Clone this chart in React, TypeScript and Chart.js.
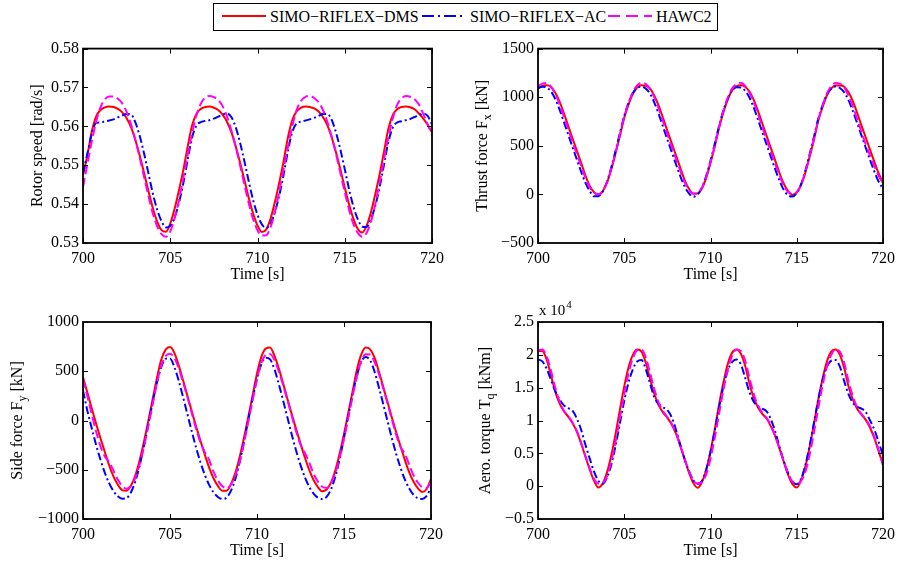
import React, { useEffect, useRef } from 'react';
import { Chart, registerables } from 'chart.js';

Chart.register(...registerables);

// ---------- data ----------
const time = [
  700, 700.25, 700.5, 700.75, 701, 701.25, 701.5, 701.75, 702, 702.25, 702.5, 702.75,
  703, 703.25, 703.5, 703.75, 704, 704.25, 704.5, 704.75, 705, 705.25, 705.5, 705.75,
  706, 706.25, 706.5, 706.75, 707, 707.25, 707.5, 707.75, 708, 708.25, 708.5, 708.75,
  709, 709.25, 709.5, 709.75, 710, 710.25, 710.5, 710.75, 711, 711.25, 711.5, 711.75,
  712, 712.25, 712.5, 712.75, 713, 713.25, 713.5, 713.75, 714, 714.25, 714.5, 714.75,
  715, 715.25, 715.5, 715.75, 716, 716.25, 716.5, 716.75, 717, 717.25, 717.5, 717.75,
  718, 718.25, 718.5, 718.75, 719, 719.25, 719.5, 719.75, 720,
];

const seriesNames = ['SIMO\u2212RIFLEX\u2212DMS', 'SIMO\u2212RIFLEX\u2212AC', 'HAWC2'];

// Rotor speed [rad/s]
const speedDms = [
  0.5475, 0.5525, 0.5586, 0.5625, 0.5642, 0.5649, 0.5651, 0.5650, 0.5645, 0.5636, 0.5621, 0.5598, 0.5565, 0.5525, 0.5480, 0.5434, 0.5390, 0.5355, 0.5333,
  0.5329, 0.5350, 0.5388, 0.5436, 0.5488, 0.5548, 0.5602, 0.5632, 0.5645, 0.5650, 0.5651, 0.5648, 0.5642, 0.5630, 0.5612, 0.5585, 0.5549, 0.5507, 0.5462, 0.5416, 0.5376, 0.5345, 0.5328,
  0.5335, 0.5363, 0.5406, 0.5456, 0.5511, 0.5573, 0.5617, 0.5639, 0.5648, 0.5651, 0.5650, 0.5646, 0.5638, 0.5624, 0.5603, 0.5572, 0.5533, 0.5489, 0.5443, 0.5399, 0.5362, 0.5336,
  0.5327, 0.5344, 0.5379, 0.5426, 0.5477, 0.5535, 0.5594, 0.5629, 0.5644, 0.5650, 0.5651, 0.5649, 0.5644, 0.5633, 0.5620, 0.5604, 0.5585,
];
const speedAc = [
  0.5478, 0.5530, 0.5580, 0.5609, 0.5610, 0.5613, 0.5615, 0.5618, 0.5623, 0.5628, 0.5632, 0.5631, 0.5610, 0.5575, 0.5530, 0.5479, 0.5428, 0.5386, 0.5356, 0.5340,
  0.5344, 0.5366, 0.5404, 0.5454, 0.5515, 0.5571, 0.5602, 0.5611, 0.5614, 0.5616, 0.5620, 0.5625, 0.5630, 0.5633, 0.5624, 0.5598, 0.5558, 0.5510, 0.5458, 0.5410, 0.5373, 0.5348,
  0.5339, 0.5350, 0.5380, 0.5423, 0.5477, 0.5538, 0.5587, 0.5608, 0.5612, 0.5615, 0.5618, 0.5622, 0.5627, 0.5632, 0.5632, 0.5617, 0.5584, 0.5540, 0.5490, 0.5438, 0.5393, 0.5361, 0.5342,
  0.5341, 0.5361, 0.5396, 0.5444, 0.5502, 0.5560, 0.5597, 0.5610, 0.5613, 0.5616, 0.5619, 0.5624, 0.5629, 0.5633, 0.5627, 0.5605,
];
const speedHawc = [
  0.5444, 0.5503, 0.5561, 0.5611, 0.5649, 0.5669, 0.5677, 0.5677, 0.5671, 0.5659, 0.5637, 0.5605, 0.5565, 0.5519, 0.5470, 0.5421, 0.5376, 0.5343, 0.5323,
  0.5316, 0.5330, 0.5363, 0.5410, 0.5467, 0.5527, 0.5582, 0.5628, 0.5658, 0.5674, 0.5678, 0.5675, 0.5668, 0.5652, 0.5626, 0.5590, 0.5548, 0.5500, 0.5450, 0.5402, 0.5361, 0.5333, 0.5319,
  0.5320, 0.5341, 0.5381, 0.5433, 0.5491, 0.5549, 0.5601, 0.5643, 0.5666, 0.5676, 0.5678, 0.5673, 0.5662, 0.5642, 0.5612, 0.5573, 0.5529, 0.5480, 0.5431, 0.5385, 0.5348, 0.5326,
  0.5316, 0.5326, 0.5355, 0.5400, 0.5455, 0.5515, 0.5572, 0.5620, 0.5655, 0.5672, 0.5678, 0.5676, 0.5670, 0.5656, 0.5632, 0.5605, 0.5578,
];

// Thrust force Fx [kN]
const thrustDms = [
  1095, 1115, 1122, 1105, 1045, 955, 835, 705, 577, 451, 325, 194, 88, 22,
  -2, 32, 120, 258, 425, 604, 790, 925, 1035, 1100, 1122, 1118, 1088, 1012, 910, 785, 653, 527, 401, 274, 148, 58, 8,
  8, 60, 170, 325, 495, 685, 845, 975, 1070, 1112, 1123, 1108, 1060, 975, 860, 730, 602, 476, 350, 220, 110, 35, -3,
  20, 95, 225, 390, 565, 760, 900, 1020, 1090, 1120, 1120, 1108, 1050, 960, 840, 710, 585, 458, 335, 215, 118,
];
const thrustAc = [
  1090, 1108, 1100, 1060, 982, 873, 746, 616, 488, 360, 235, 118, 35, -20, -18,
  30, 130, 278, 451, 632, 808, 942, 1042, 1095, 1108, 1088, 1035, 942, 825, 694, 565, 437, 310, 187, 80, 10, -25,
  0, 70, 190, 347, 523, 706, 864, 986, 1066, 1102, 1101, 1068, 999, 896, 772, 642, 513, 386, 260, 141, 45, -10, -22,
  15, 105, 245, 415, 595, 780, 920, 1030, 1090, 1110, 1095, 1050, 970, 860, 735, 607, 480, 355, 235, 130, 58,
];
const thrustHawc = [
  1112, 1140, 1145, 1110, 1035, 928, 800, 670, 540, 415, 292, 170, 70, 17, 1,
  38, 125, 265, 433, 614, 800, 940, 1055, 1122, 1148, 1135, 1085, 995, 880, 750, 617, 490, 365, 243, 125, 45, 7,
  12, 68, 180, 330, 505, 695, 860, 995, 1090, 1135, 1148, 1118, 1050, 950, 827, 696, 566, 440, 316, 195, 88, 25, 0,
  25, 100, 232, 398, 575, 770, 915, 1040, 1112, 1145, 1140, 1100, 1015, 905, 775, 643, 515, 400, 290, 190, 105,
];

// Side force Fy [kN]
const sideDms = [
  440, 283, 124, -30, -178, -318, -454, -568, -652, -706,
  -713, -663, -561, -408, -218, -7, 213, 433, 619, 720,
  745, 687, 560, 408, 251, 93, -60, -206, -346, -478, -586, -664, -712,
  -713, -647, -534, -372, -177, 37, 257, 477, 646, 730,
  740, 658, 530, 377, 219, 62, -90, -234, -374, -502, -604, -676, -719,
  -701, -631, -507, -336, -136, 81, 301, 521, 673, 740,
  722, 640, 500, 346, 187, 31, -120, -262, -402, -526, -622, -690, -725,
  -695, -595,
];
const sideAc = [
  305, 100, -75, -245, -396, -528, -636, -716, -769, -794,
  -788, -730, -622, -462, -261, -40, 182, 384, 544, 627,
  630, 544, 404, 238, 65, -110, -276, -424, -552, -654, -729, -776, -796,
  -783, -715, -596, -426, -218, 5, 226, 422, 572, 636,
  620, 522, 372, 204, 30, -145, -308, -452, -576, -672, -742, -783, -798,
  -775, -700, -570, -390, -175, 50, 270, 460, 600, 645,
  610, 500, 340, 170, -5, -180, -340, -480, -600, -690, -755, -790, -797,
  -765, -680,
];
const sideHawc = [
  420, 245, 65, -110, -260, -365, -420, -510, -600, -665,
  -692, -665, -585, -450, -270, -60, 160, 380, 560, 655,
  678, 635, 530, 390, 238, 77, -84, -223, -322, -400, -520, -608, -666,
  -690, -650, -560, -420, -230, -15, 205, 420, 585, 665,
  675, 615, 500, 360, 206, 45, -115, -245, -330, -425, -540, -620, -672,
  -685, -635, -535, -380, -185, 30, 250, 455, 605, 672,
  670, 595, 475, 330, 175, 12, -145, -270, -338, -450, -558, -632, -678,
  -685, -620,
];

// Aero torque Tq [x 10^4 kNm]
const torqueDms = [
  2.06, 2.06, 1.93, 1.69, 1.44, 1.26, 1.14, 1.06, 0.96, 0.83, 0.65, 0.45, 0.25, 0.08, -0.02,
  0.04, 0.21, 0.47, 0.80, 1.17, 1.52, 1.81, 2.00, 2.08,
  2.05, 1.88, 1.63, 1.40, 1.23, 1.12, 1.04, 0.94, 0.80, 0.61, 0.41, 0.21, 0.05, -0.025,
  0.06, 0.25, 0.53, 0.87, 1.25, 1.58, 1.86, 2.03, 2.08,
  2.02, 1.84, 1.57, 1.35, 1.20, 1.10, 1.03, 0.91, 0.76, 0.57, 0.37, 0.17, 0.03,
  -0.02, 0.09, 0.30, 0.60, 0.95, 1.32, 1.64, 1.90, 2.05,
  2.08, 2.00, 1.80, 1.52, 1.32, 1.18, 1.09, 1.01, 0.89, 0.73, 0.53, 0.33,
];
const torqueAc = [
  1.93, 1.90, 1.79, 1.62, 1.45, 1.32, 1.23, 1.19, 1.15, 1.03, 0.86, 0.63, 0.42, 0.22, 0.08,
  0.035, 0.13, 0.33, 0.62, 0.96, 1.30, 1.58, 1.78, 1.90,
  1.92, 1.78, 1.56, 1.35, 1.25, 1.20, 1.16, 1.05, 0.86, 0.63, 0.41, 0.23, 0.09, 0.035,
  0.08, 0.25, 0.52, 0.85, 1.20, 1.52, 1.76, 1.89, 1.93,
  1.86, 1.66, 1.44, 1.29, 1.21, 1.18, 1.14, 1.02, 0.83, 0.60, 0.38, 0.20, 0.07,
  0.03, 0.11, 0.32, 0.62, 0.97, 1.32, 1.62, 1.82, 1.91,
  1.92, 1.82, 1.60, 1.40, 1.27, 1.21, 1.18, 1.13, 1.00, 0.86, 0.67, 0.47,
];
const torqueHawc = [
  2.07, 2.08, 1.98, 1.76, 1.50, 1.29, 1.15, 1.07, 0.97, 0.84, 0.66, 0.46, 0.27, 0.11, 0.04,
  0.05, 0.15, 0.38, 0.68, 1.04, 1.40, 1.72, 1.95, 2.07,
  2.08, 1.96, 1.72, 1.47, 1.27, 1.14, 1.05, 0.95, 0.81, 0.62, 0.42, 0.23, 0.09, 0.04,
  0.06, 0.18, 0.42, 0.74, 1.11, 1.47, 1.77, 1.98, 2.08,
  2.06, 1.92, 1.66, 1.41, 1.23, 1.12, 1.04, 0.93, 0.77, 0.58, 0.38, 0.19, 0.07,
  0.04, 0.08, 0.22, 0.48, 0.82, 1.19, 1.54, 1.82, 2.00,
  2.08, 2.05, 1.88, 1.60, 1.37, 1.20, 1.10, 1.02, 0.91, 0.75, 0.55, 0.32,
];

const timeTicks = [700, 705, 710, 715, 720];

// ---------- styling ----------
const FONT = "'Liberation Serif', 'Times New Roman', Times, serif";
const FS = 16;
const RED = '#ff0000';
const BLUE = '#0000ff';
const MAGENTA = '#ff00ff';
const MINUS = '\u2212';

Chart.defaults.font.family = FONT;
Chart.defaults.color = '#000';

const signed = (v: number) => {
  const r = Math.round(v * 1000) / 1000;
  return r < 0 ? MINUS + String(Math.abs(r)) : String(r);
};

type Part = { text: string; sub?: boolean };

const matlabAxes = {
  id: 'matlabAxes',
  afterDatasetsDraw(chart: any, _args: any, opts: any) {
    const { ctx, chartArea: a, scales } = chart;
    ctx.save();
    ctx.strokeStyle = '#000';
    ctx.lineWidth = 1;
    const tl = 5;
    ctx.beginPath();
    for (const t of scales.x.ticks) {
      const px = Math.round(scales.x.getPixelForValue(t.value)) + 0.5;
      ctx.moveTo(px, a.bottom);
      ctx.lineTo(px, a.bottom - tl);
      ctx.moveTo(px, a.top);
      ctx.lineTo(px, a.top + tl);
    }
    for (const t of scales.y.ticks) {
      const py = Math.round(scales.y.getPixelForValue(t.value)) + 0.5;
      ctx.moveTo(a.left, py);
      ctx.lineTo(a.left + tl, py);
      ctx.moveTo(a.right, py);
      ctx.lineTo(a.right - tl, py);
    }
    ctx.stroke();
    ctx.lineWidth = 1.8;
    ctx.strokeRect(a.left, a.top, a.right - a.left, a.bottom - a.top);

    // y-axis label with optional subscript
    const parts: Part[] = opts.parts || [];
    const mainFont = `${FS}px ${FONT}`;
    const subFont = `12px ${FONT}`;
    let total = 0;
    const widths = parts.map((p) => {
      ctx.font = p.sub ? subFont : mainFont;
      const w = ctx.measureText(p.text).width;
      total += w;
      return w;
    });
    ctx.save();
    ctx.translate(opts.labelX, (a.top + a.bottom) / 2);
    ctx.rotate(-Math.PI / 2);
    ctx.fillStyle = '#000';
    ctx.textBaseline = 'middle';
    ctx.textAlign = 'left';
    let x = -total / 2;
    parts.forEach((p, i) => {
      ctx.font = p.sub ? subFont : mainFont;
      ctx.fillText(p.text, x, p.sub ? 5 : 0);
      x += widths[i];
    });
    ctx.restore();

    // exponent label (x 10^4)
    if (opts.exponent) {
      const { x: ex, y: ey, base, power } = opts.exponent;
      ctx.fillStyle = '#000';
      ctx.textBaseline = 'middle';
      ctx.textAlign = 'left';
      ctx.font = `15px ${FONT}`;
      ctx.fillText(base, ex, ey);
      const bw = ctx.measureText(base).width;
      ctx.font = `11px ${FONT}`;
      ctx.fillText(power, ex + bw + 1, ey - 6);
    }
    ctx.restore();
  },
};
Chart.register(matlabAxes);

type Spec = {
  left: number; top: number; w: number; h: number;
  padT: number; padR: number; yW: number;
  yMin: number; yMax: number; yStep: number;
  fmt: (v: number) => string;
  series: number[][];
  parts: Part[];
  labelX: number;
  exponent?: any;
};

const pts = (arr: number[]) => time.map((t, i) => ({ x: t, y: arr[i] }));

const styles = [
  { color: RED, dash: [] as number[], order: 3 },
  { color: BLUE, dash: [8, 3, 2, 3], order: 2 },
  { color: MAGENTA, dash: [9, 4], order: 1 },
];

function makeConfig(s: Spec): any {
  return {
    type: 'line',
    data: {
      datasets: s.series.map((arr, i) => ({
        label: seriesNames[i],
        data: pts(arr),
        borderColor: styles[i].color,
        backgroundColor: styles[i].color,
        borderDash: styles[i].dash,
        borderWidth: 2,
        pointRadius: 0,
        fill: false,
        cubicInterpolationMode: 'monotone',
        order: styles[i].order,
      })),
    },
    options: {
      animation: false,
      responsive: false,
      events: [],
      layout: { padding: { left: 0, right: s.padR, top: s.padT, bottom: 0 } },
      plugins: {
        legend: { display: false },
        tooltip: { enabled: false },
        matlabAxes: { parts: s.parts, labelX: s.labelX, exponent: s.exponent },
      },
      scales: {
        x: {
          type: 'linear',
          min: 700,
          max: 720,
          afterBuildTicks: (scale: any) => {
            scale.ticks = timeTicks.map((v) => ({ value: v }));
          },
          ticks: {
            autoSkip: false,
            maxRotation: 0,
            padding: 6,
            color: '#000',
            font: { family: FONT, size: FS },
            callback: (v: number) => String(v),
          },
          grid: { display: false, drawTicks: false },
          border: { display: false },
          title: {
            display: true,
            text: 'Time [s]',
            color: '#000',
            font: { family: FONT, size: FS },
            padding: 0,
          },
          afterFit: (scale: any) => {
            scale.height = 41;
          },
        },
        y: {
          type: 'linear',
          min: s.yMin,
          max: s.yMax,
          ticks: {
            stepSize: s.yStep,
            autoSkip: false,
            padding: 4,
            color: '#000',
            font: { family: FONT, size: FS },
            callback: (v: number) => s.fmt(v),
          },
          grid: { display: false, drawTicks: false },
          border: { display: false },
          afterFit: (scale: any) => {
            scale.width = s.yW;
          },
        },
      },
    },
  };
}

const specs: Spec[] = [
  {
    left: 0, top: 35, w: 450, h: 249, padT: 10, padR: 18, yW: 83,
    yMin: 0.53, yMax: 0.58, yStep: 0.01,
    fmt: (v) => v.toFixed(2),
    series: [speedDms, speedAc, speedHawc],
    parts: [{ text: 'Rotor speed [rad/s]' }],
    labelX: 37.5,
  },
  {
    left: 450, top: 35, w: 451, h: 249, padT: 10, padR: 15, yW: 88,
    yMin: -500, yMax: 1500, yStep: 500,
    fmt: signed,
    series: [thrustDms, thrustAc, thrustHawc],
    parts: [{ text: 'Thrust force F' }, { text: 'x', sub: true }, { text: ' [kN]' }],
    labelX: 33,
  },
  {
    left: 0, top: 295, w: 450, h: 265, padT: 27, padR: 19, yW: 83,
    yMin: -1000, yMax: 1000, yStep: 500,
    fmt: signed,
    series: [sideDms, sideAc, sideHawc],
    parts: [{ text: 'Side force F' }, { text: 'y', sub: true }, { text: ' [kN]' }],
    labelX: 17.5,
  },
  {
    left: 450, top: 295, w: 451, h: 265, padT: 27, padR: 16, yW: 88,
    yMin: -0.5, yMax: 2.5, yStep: 0.5,
    fmt: signed,
    series: [torqueDms, torqueAc, torqueHawc],
    parts: [{ text: 'Aero. torque T' }, { text: 'q', sub: true }, { text: ' [kNm]' }],
    labelX: 35.5,
    exponent: { x: 89, y: 16, base: 'x 10', power: '4' },
  },
];

function Panel({ spec }: { spec: Spec }) {
  const ref = useRef<HTMLCanvasElement>(null);
  useEffect(() => {
    const chart = new Chart(ref.current as HTMLCanvasElement, makeConfig(spec));
    return () => chart.destroy();
  }, [spec]);
  return (
    <canvas
      ref={ref}
      width={spec.w}
      height={spec.h}
      style={{ position: 'absolute', left: spec.left, top: spec.top, width: spec.w, height: spec.h }}
    />
  );
}

const legendItems = [
  { color: RED, dash: '', lineX: 222, textX: 270 },
  { color: BLUE, dash: '12 4 2 4', lineX: 422, textX: 470 },
  { color: MAGENTA, dash: '12 6', lineX: 608, textX: 656 },
];

export default function App() {
  return (
    <div
      style={{
        position: 'fixed', left: 0, top: 0, width: 901, height: 565,
        background: '#fff', overflow: 'hidden', fontFamily: FONT,
      }}
    >
      <div
        style={{
          position: 'absolute', left: 213, top: 3, width: 505, height: 28,
          border: '1.8px solid #000', boxSizing: 'border-box', background: '#fff',
        }}
      />
      {legendItems.map((it, i) => (
        <React.Fragment key={i}>
          <svg
            width={44}
            height={10}
            style={{ position: 'absolute', left: it.lineX, top: 11 }}
          >
            <line
              x1={0} y1={5} x2={44} y2={5}
              stroke={it.color}
              strokeWidth={2}
              strokeDasharray={it.dash || undefined}
            />
          </svg>
          <span
            style={{
              position: 'absolute', left: it.textX, top: 8, fontSize: 16,
              lineHeight: '18px', color: '#000', whiteSpace: 'nowrap',
            }}
          >
            {seriesNames[i]}
          </span>
        </React.Fragment>
      ))}
      {specs.map((s, i) => (
        <Panel key={i} spec={s} />
      ))}
    </div>
  );
}
